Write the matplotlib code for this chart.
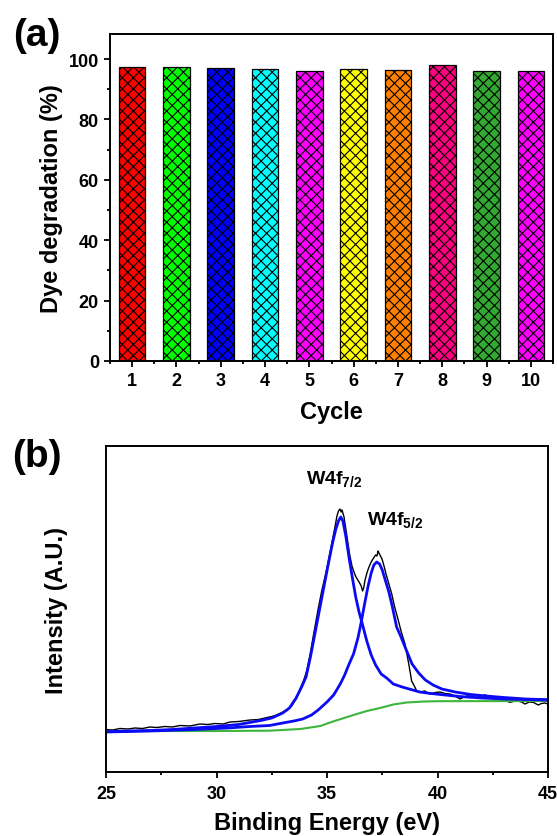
import matplotlib
matplotlib.use("Agg")
import matplotlib.pyplot as plt
from matplotlib.ticker import MultipleLocator

plt.rcParams['font.family'] = ['Liberation Sans', 'DejaVu Sans']
plt.rcParams['font.weight'] = 'bold'
plt.rcParams['mathtext.fontset'] = 'custom'
plt.rcParams['mathtext.rm'] = 'Liberation Sans:bold'
plt.rcParams['mathtext.it'] = 'Liberation Sans:bold'
plt.rcParams['mathtext.bf'] = 'Liberation Sans:bold'
plt.rcParams['hatch.linewidth'] = 0.8

# (a) recycling test
cycles = [1, 2, 3, 4, 5, 6, 7, 8, 9, 10]
degradation = [97.4, 97.4, 96.9, 96.6, 96.0, 96.7, 96.4, 98.1, 96.2, 96.2]
bar_colors = ['#FF0000', '#00FF00', '#0000FF', '#00FFFF', '#FF00FF',
              '#FFFF00', '#FF8000', '#FF0080', '#33A833', '#FF00FF']

# (b) XPS W4f spectrum (binding energy in eV, intensity in arb. units)
raw_be = [25.0, 25.3, 25.63, 26.0, 26.31, 26.65, 26.99, 27.3, 27.67, 28.0,
          28.35, 28.8, 29.25, 29.6, 29.93, 30.3, 30.61, 31.0, 31.52, 31.9,
          32.19, 32.5, 32.72, 33.0, 33.2, 33.4, 33.63, 33.78, 33.95, 34.08,
          34.23, 34.46, 34.6, 34.76, 34.95, 35.14, 35.28, 35.36, 35.45, 35.52,
          35.59, 35.64, 35.68, 35.77, 35.90, 36.02, 36.13, 36.22, 36.31, 36.45,
          36.55, 36.61, 36.66, 36.72, 36.82, 36.90, 37.0, 37.08, 37.20, 37.26,
          37.31, 37.35, 37.42, 37.49, 37.58, 37.67, 37.80, 37.93, 38.05, 38.21,
          38.35, 38.53, 38.7, 38.83, 38.95, 39.06, 39.21, 39.43, 39.55, 39.66,
          39.9, 40.11, 40.35, 40.57, 40.8, 41.02, 41.2, 41.38, 41.6, 41.77,
          41.95, 42.15, 42.38, 42.6, 42.83, 43.05, 43.28, 43.58, 43.8, 43.96,
          44.15, 44.33, 44.56, 44.7, 44.86, 45.0]
raw_int = [42.5, 42.0, 43.5, 43.0, 44.0, 43.5, 45.0, 44.5, 45.5, 45.0,
           46.5, 46.0, 48.0, 47.5, 48.5, 48.0, 50.0, 50.5, 52.0, 52.5,
           54.0, 55.5, 57.0, 60.0, 62.5, 66.0, 74.0, 83.0, 92.0, 101.0,
           117.0, 146.0, 163.0, 181.0, 199.0, 220.0, 236.0, 245.0, 256.0, 261.0,
           263.0, 260.0, 262.0, 255.0, 236.0, 218.0, 206.0, 200.0, 195.0, 190.0,
           186.0, 181.0, 184.0, 192.0, 200.0, 205.0, 210.0, 213.0, 217.0, 216.0,
           221.0, 219.0, 216.0, 213.0, 206.0, 198.0, 188.0, 178.0, 166.0, 153.0,
           141.0, 128.0, 108.0, 91.0, 86.0, 81.0, 80.0, 81.0, 79.0, 78.0,
           79.5, 80.0, 78.5, 78.0, 76.0, 73.0, 75.0, 76.3, 75.0, 74.7,
           76.0, 77.0, 75.7, 74.5, 73.0, 71.5, 69.7, 71.3, 70.0, 68.0,
           70.0, 69.7, 67.0, 68.5, 69.0, 68.0]

fit1_be = [25.0, 26.0, 27.0, 28.0, 29.0, 30.0, 31.0, 31.5, 32.0, 32.5,
           33.0, 33.3, 33.6, 33.85, 34.05, 34.25, 34.45, 34.65, 34.85, 35.05,
           35.25, 35.4, 35.52, 35.62, 35.72, 35.85, 36.0, 36.15, 36.3, 36.45,
           36.6, 36.8, 37.0, 37.2, 37.45, 37.7, 38.0, 38.4, 38.8, 39.2,
           39.6, 40.0, 41.0, 42.0, 43.0, 44.0, 45.0]
fit1_int = [40.3, 41.0, 41.5, 42.5, 44.0, 45.5, 47.5, 49.5, 51.5, 54.0,
            59.0, 64.0, 74.0, 85.0, 95.0, 115.0, 138.0, 161.0, 184.0, 207.0,
            229.0, 243.0, 251.0, 255.0, 251.0, 236.0, 214.0, 194.0, 175.0, 160.0,
            148.0, 131.0, 117.0, 107.0, 98.0, 94.0, 88.0, 85.0, 82.5, 80.0,
            78.8, 77.8, 75.5, 74.0, 73.0, 72.5, 72.0]

fit2_be = [25.0, 27.0, 29.0, 30.5, 31.5, 32.4, 33.0, 33.5, 33.9, 34.3,
           34.6, 35.0, 35.3, 35.6, 35.8, 36.0, 36.2, 36.4, 36.55, 36.7,
           36.85, 37.0, 37.12, 37.25, 37.38, 37.5, 37.65, 37.8, 37.95, 38.15,
           38.35, 38.55, 38.85, 39.15, 39.45, 39.8, 40.2, 40.8, 41.5, 42.2,
           43.0, 44.0, 45.0]
fit2_int = [40.0, 41.0, 42.5, 44.0, 45.5, 46.5, 49.0, 51.0, 53.0, 57.0,
            62.0, 70.0, 77.0, 88.0, 97.0, 108.0, 118.0, 134.0, 150.0, 168.0,
            185.0, 199.0, 207.0, 210.0, 208.0, 202.0, 191.0, 180.0, 166.0, 145.0,
            135.0, 124.0, 108.0, 99.0, 92.0, 87.0, 83.0, 80.0, 77.5, 76.0,
            74.5, 73.0, 72.3]

bg_be = [25.0, 30.0, 32.4, 33.8, 34.7, 35.2, 35.7, 36.2, 36.8, 37.4,
         38.0, 38.6, 39.4, 40.0, 45.0]
bg_int = [41.0, 41.0, 41.3, 43.0, 46.0, 50.0, 53.5, 57.0, 61.0, 64.0,
          67.5, 69.5, 70.5, 70.8, 71.0]


def style_axes(ax):
    for sp in ax.spines.values():
        sp.set_linewidth(1.4)
    ax.tick_params(which='both', direction='out', width=1.3, labelsize=13,
                   top=False, right=False)
    ax.tick_params(which='major', length=4.5)
    ax.tick_params(which='minor', length=2.5)


fig = plt.figure(figsize=(5.57, 8.37), dpi=100)

# ---- panel (a)
ax1 = fig.add_axes([110 / 557, 1 - 362 / 837, 443 / 557, 327 / 837])
ax1.bar(cycles, degradation, width=0.6, color=bar_colors, edgecolor='black',
        linewidth=0.9, hatch='xxx')
ax1.set_xlim(0.5, 10.5)
ax1.set_ylim(0, 108.3)
ax1.xaxis.set_major_locator(MultipleLocator(1))
ax1.xaxis.set_minor_locator(MultipleLocator(0.5))
ax1.yaxis.set_major_locator(MultipleLocator(20))
ax1.yaxis.set_minor_locator(MultipleLocator(10))
style_axes(ax1)
ax1.set_xlabel('Cycle', fontsize=17, fontweight='bold', labelpad=8)
ax1.set_ylabel('Dye degradation (%)', fontsize=17, fontweight='bold', labelpad=4)
fig.text(37 / 557, 1 - 36 / 837, '(a)', fontsize=28, fontweight='bold',
         ha='center', va='center')

# ---- panel (b)
ax2 = fig.add_axes([106 / 557, 1 - 773 / 837, 442 / 557, 326 / 837])
ax2.plot(raw_be, raw_int, color='black', lw=1.0)
ax2.plot(bg_be, bg_int, color='#3DB53D', lw=1.5)
ax2.plot(fit1_be, fit1_int, color='#0A0AF5', lw=2.0)
ax2.plot(fit2_be, fit2_int, color='#0A0AF5', lw=2.0)
ax2.set_xlim(25, 45)
ax2.set_ylim(0, 326)
ax2.xaxis.set_major_locator(MultipleLocator(5))
ax2.xaxis.set_minor_locator(MultipleLocator(2.5))
ax2.set_yticks([])
style_axes(ax2)
ax2.tick_params(axis='x', pad=5)
ax2.text(34.05, 289, r'W4f$_{7/2}$', fontsize=14, fontweight='bold')
ax2.text(36.8, 248, r'W4f$_{5/2}$', fontsize=14, fontweight='bold')
ax2.set_xlabel('Binding Energy (eV)', fontsize=17, fontweight='bold', labelpad=6)
ax2.set_ylabel('Intensity (A.U.)', fontsize=17, fontweight='bold', labelpad=27)
fig.text(37 / 557, 1 - 457 / 837, '(b)', fontsize=28, fontweight='bold',
         ha='center', va='center')

fig.savefig('out.png', dpi=100)
